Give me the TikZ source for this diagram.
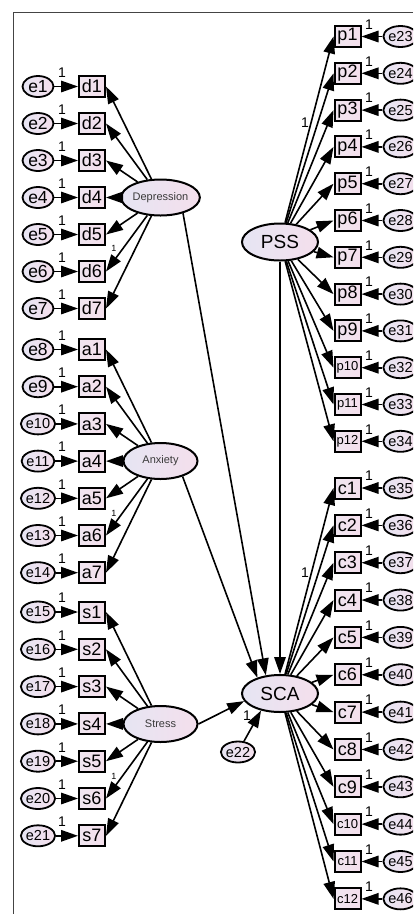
\documentclass[tikz,border=0pt]{standalone}
\usepackage{fontspec}
\setmainfont{Liberation Sans}
\usetikzlibrary{shapes.geometric,arrows.meta}
\definecolor{shL}{HTML}{E6E5F3}
\definecolor{shR}{HTML}{F4DFEC}
\definecolor{boxL}{HTML}{F0E6F0}
\definecolor{frameC}{HTML}{444444}
\definecolor{latText}{HTML}{3A3A3A}
\begin{document}
\begin{tikzpicture}[x=1pt,y=-1pt,
  lat/.style={ellipse,draw,line width=2pt,minimum width=74pt,minimum height=36pt,inner sep=0pt,left color=shL,right color=shR,font=\fontsize{11}{11}\selectfont,text=latText},
  big/.style={lat,font=\fontsize{19}{19}\selectfont,text=black,minimum width=76pt,minimum height=37pt},
  obs/.style={rectangle,draw,line width=2pt,minimum width=26pt,minimum height=21pt,inner sep=0pt,left color=boxL,right color=shR,font=\fontsize{18}{18}\selectfont},
  obss/.style={obs,font=\fontsize{13}{13}\selectfont},
  err/.style={ellipse,draw,line width=1.8pt,minimum width=31pt,minimum height=21pt,inner sep=0pt,left color=shL,right color=shR,font=\fontsize{17.5}{17.5}\selectfont},
  errs/.style={err,font=\fontsize{14.5}{14.5}\selectfont},
  arr/.style={line width=1.6pt,-{Triangle[length=17pt,width=11.5pt]}},
  one/.style={font=\fontsize{14}{14}\selectfont,inner sep=0pt},
  onesm/.style={font=\fontsize{9}{9}\selectfont,inner sep=0pt}
]
\useasboundingbox (0,0) rectangle (413,914);
\clip (0,0) rectangle (413,914);
% frame
\draw[frameC,line width=1.3pt] (413,12.5) -- (13.5,12.5) -- (13.5,914);

% latent variables
\node[lat] (Dep) at (160.5,197.5) {Depression};
\node[lat] (Anx) at (160.5,461) {Anxiety};
\node[lat] (Str) at (160.5,724) {Stress};
\node[big] (PSS) at (280,242) {PSS};
\node[big] (SCA) at (280,693.5) {SCA};
\node[errs] (e22) at (238,752) {e22};

% Depression indicators
\foreach \i in {1,...,7}{
  \pgfmathsetmacro\yy{86.5+(\i-1)*37}
  \node[obs] (d\i) at (92,\yy) {d\i};
  \node[err] (e\i) at (38,\yy) {e\i};
  \draw[arr] (e\i) -- (d\i);
  \node[one] at (62,\yy-14) {1};
  \draw[arr] (Dep) -- (d\i.east);
}
% Anxiety indicators
\foreach \i in {1,...,7}{
  \pgfmathsetmacro\yy{349.5+(\i-1)*37.2}
  \pgfmathtruncatemacro\k{\i+7}
  \def\es{err}\ifnum\k>9 \def\es{errs}\fi
  \node[obs] (a\i) at (92,\yy) {a\i};
  \node[\es] (e\k) at (38,\yy) {e\k};
  \draw[arr] (e\k) -- (a\i);
  \node[one] at (62,\yy-14) {1};
  \draw[arr] (Anx) -- (a\i.east);
}
% Stress indicators
\foreach \i in {1,...,7}{
  \pgfmathsetmacro\yy{612+(\i-1)*37.3}
  \pgfmathtruncatemacro\k{\i+14}
  \node[obs] (s\i) at (92,\yy) {s\i};
  \node[errs] (e\k) at (38,\yy) {e\k};
  \draw[arr] (e\k) -- (s\i);
  \node[one] at (62,\yy-14) {1};
  \draw[arr] (Str) -- (s\i.east);
}
% PSS indicators
\foreach \i in {1,...,12}{
  \pgfmathsetmacro\yy{36.5+(\i-1)*36.8}
  \pgfmathtruncatemacro\k{\i+22}
  \def\os{obs}\ifnum\i>9 \def\os{obss}\fi
  \node[\os] (p\i) at (347.5,\yy) {p\i};
  \node[errs] (e\k) at (400.5,\yy) {e\k};
  \draw[arr] (e\k) -- (p\i);
  \node[one] at (369,\yy-12) {1};
  \draw[arr] (PSS) -- (p\i.west);
}
% SCA indicators
\foreach \i in {1,...,12}{
  \pgfmathsetmacro\yy{488+(\i-1)*37.35}
  \pgfmathtruncatemacro\k{\i+34}
  \def\os{obs}\ifnum\i>9 \def\os{obss}\fi
  \node[\os] (c\i) at (347.5,\yy) {c\i};
  \node[errs] (e\k) at (400.5,\yy) {e\k};
  \draw[arr] (e\k) -- (c\i);
  \node[one] at (369,\yy-12) {1};
  \draw[arr] (SCA) -- (c\i.west);
}

% fixed loading labels
\node[one] at (305,123) {1};
\node[one] at (305,573) {1};
\node[onesm] at (114,248) {1};
\node[onesm] at (114,513) {1};
\node[onesm] at (114,776) {1};

% structural paths
\draw[arr] (Dep.-35) -- (SCA.128);
\draw[arr] (Anx.-35) -- (SCA.145);
\draw[arr] (PSS.south) -- (SCA.north);
\draw[arr] (Str.east) -- (SCA.192);
\draw[arr] (e22) -- (SCA.222);
\node[one] at (247,716) {1};
\end{tikzpicture}
\end{document}
